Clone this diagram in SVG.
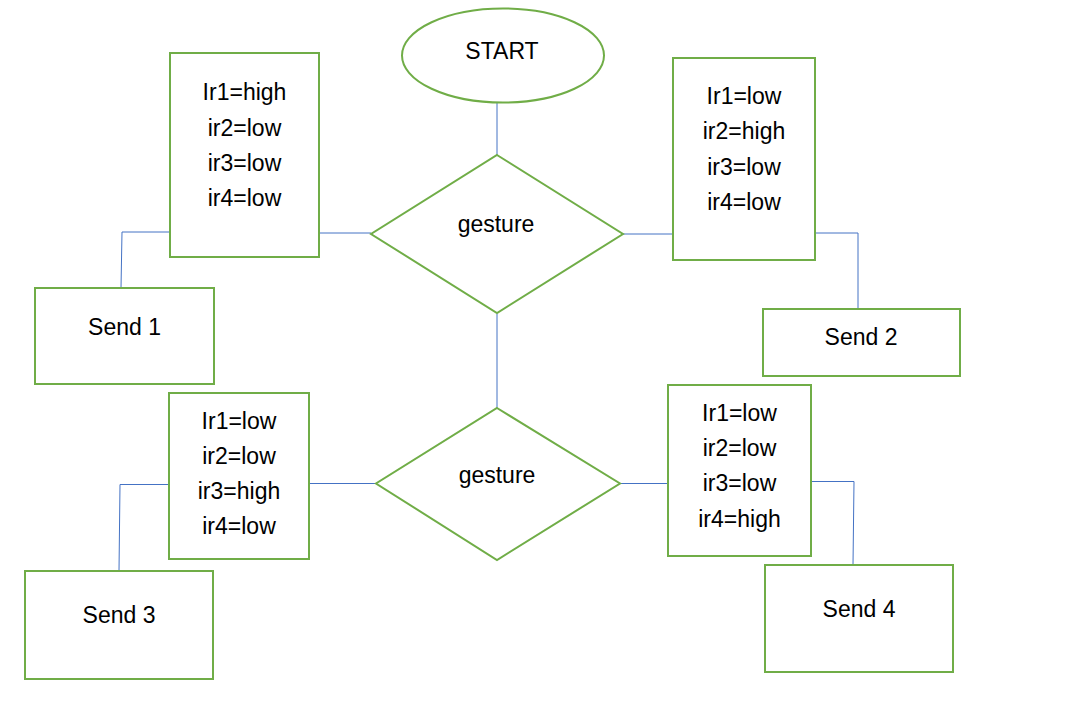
<svg xmlns="http://www.w3.org/2000/svg" width="1083" height="723" viewBox="0 0 1083 723">
<style>
.shape{fill:#ffffff;stroke:#70AD47;stroke-width:2}
.conn{fill:none;stroke:#4472C4;stroke-width:1}
text{font-family:"Liberation Sans",Arial,sans-serif;font-size:23px;fill:#000000;text-anchor:middle}
</style>
<rect width="1083" height="723" fill="#ffffff"/>
<g id="connectors">
<path class="conn" d="M497,103 L497,155"/>
<path class="conn" d="M497,314 L497,408"/>
<path class="conn" d="M319,233 L371,233"/>
<path class="conn" d="M623,234 L673,234"/>
<path class="conn" d="M170,232 L122,232 L121,288"/>
<path class="conn" d="M815,233 L858,233 L858,309"/>
<path class="conn" d="M309,483.5 L376,483.5"/>
<path class="conn" d="M620,483.5 L668,483.5"/>
<path class="conn" d="M169,484.5 L120,484.5 L119,571"/>
<path class="conn" d="M811,481.5 L854,481.5 L853,565"/>
</g>
<g id="start">
<ellipse class="shape" cx="503" cy="55.5" rx="101" ry="47"/>
<text x="502" y="59">START</text>
</g>
<g id="gesture1">
<polygon class="shape" points="497,155 623,234 497,313 371,234"/>
<text x="496" y="232">gesture</text>
</g>
<g id="gesture2">
<polygon class="shape" points="497,408 620,483.5 497,560 376,483.5"/>
<text x="497" y="483">gesture</text>
</g>
<g id="cond1">
<rect class="shape" x="170" y="53" width="149" height="204"/>
<text x="244.5" y="100">Ir1=high</text>
<text x="244.5" y="135.5">ir2=low</text>
<text x="244.5" y="171">ir3=low</text>
<text x="244.5" y="206">ir4=low</text>
</g>
<g id="cond2">
<rect class="shape" x="673" y="58" width="142" height="202"/>
<text x="744" y="103.5">Ir1=low</text>
<text x="744" y="139">ir2=high</text>
<text x="744" y="174.5">ir3=low</text>
<text x="744" y="210">ir4=low</text>
</g>
<g id="cond3">
<rect class="shape" x="169" y="393" width="140" height="166"/>
<text x="239" y="428.5">Ir1=low</text>
<text x="239" y="463.5">ir2=low</text>
<text x="239" y="499">ir3=high</text>
<text x="239" y="534">ir4=low</text>
</g>
<g id="cond4">
<rect class="shape" x="668" y="385" width="143" height="171"/>
<text x="739.5" y="421">Ir1=low</text>
<text x="739.5" y="456">ir2=low</text>
<text x="739.5" y="491">ir3=low</text>
<text x="739.5" y="526.5">ir4=high</text>
</g>
<g id="send1">
<rect class="shape" x="35" y="288" width="179" height="96"/>
<text x="124.5" y="334.5">Send 1</text>
</g>
<g id="send2">
<rect class="shape" x="763" y="309" width="197" height="67"/>
<text x="861" y="345">Send 2</text>
</g>
<g id="send3">
<rect class="shape" x="25" y="571" width="188" height="108"/>
<text x="119" y="622.5">Send 3</text>
</g>
<g id="send4">
<rect class="shape" x="765" y="565" width="188" height="107"/>
<text x="859" y="617">Send 4</text>
</g>
</svg>
